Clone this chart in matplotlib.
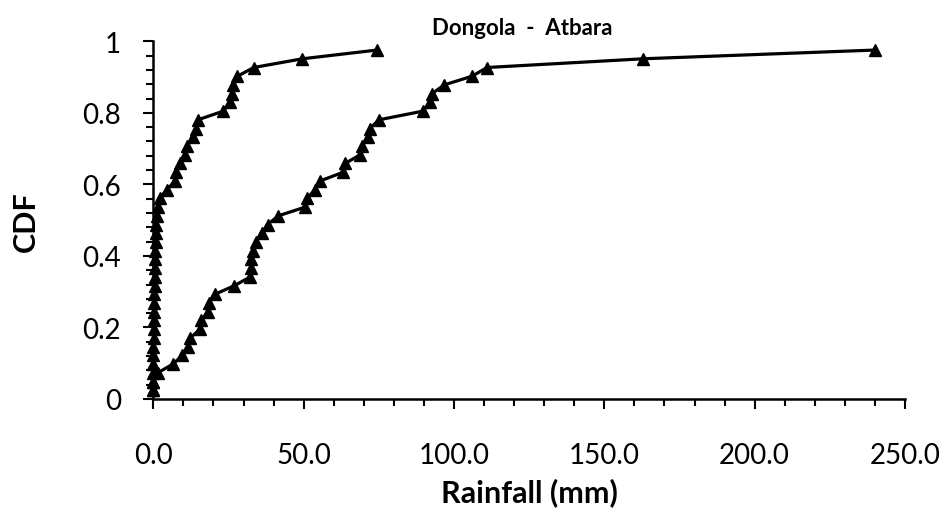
import matplotlib
matplotlib.use("Agg")
import matplotlib.pyplot as plt
import numpy as np
from matplotlib.ticker import MultipleLocator, FormatStrFormatter

plt.rcParams['font.family'] = ['Lato', 'DejaVu Sans']

# sorted rainfall values (mm), 40 values per station
dongola_mm = [0.0, 0.0, 0.0, 0.0, 0.0, 0.0, 0.1, 0.1, 0.2, 0.2,
              0.3, 0.3, 0.4, 0.5, 0.5, 0.6, 0.7, 0.8, 0.9, 1.0,
              1.3, 1.7, 2.1, 4.5, 7.3, 7.6, 9.0, 10.5, 11.2, 13.3,
              14.3, 14.8, 23.3, 25.4, 26.2, 26.6, 28.0, 33.4, 49.6, 74.4]
atbara_mm = [0.0, 0.0, 1.5, 6.5, 9.7, 11.5, 12.3, 15.6, 16.0, 18.3,
             18.5, 20.5, 27.0, 32.3, 32.4, 32.5, 33.0, 34.0, 36.0, 38.0,
             41.6, 50.5, 51.0, 53.9, 55.5, 63.2, 63.8, 68.8, 69.4, 71.5,
             72.0, 75.0, 89.7, 92.0, 92.7, 96.7, 106.0, 111.0, 163.0, 240.0]

y_ticks = [0, 0.2, 0.4, 0.6, 0.8, 1.0]
y_tick_labels = ['0', '0.2', '0.4', '0.6', '0.8', '1']


# Weibull plotting positions i/(n+1)
def plotting_positions(values):
    n = len(values)
    return np.arange(1, n + 1) / (n + 1)


fig = plt.figure(figsize=(9.44, 5.10), dpi=100)
ax = fig.add_axes([0.1624, 0.2157, 0.7963, 0.7013])

for series in (dongola_mm, atbara_mm):
    ax.plot(series, plotting_positions(series), color='black', lw=2.3,
            marker='^', ms=9, clip_on=False)

ax.set_xlim(0, 250)
ax.set_ylim(0, 1)
ax.xaxis.set_major_locator(MultipleLocator(50))
ax.xaxis.set_minor_locator(MultipleLocator(10))
ax.xaxis.set_major_formatter(FormatStrFormatter('%.1f'))
ax.set_yticks(y_ticks)
ax.set_yticklabels(y_tick_labels)
ax.yaxis.set_minor_locator(MultipleLocator(0.04))

for side in ('top', 'right'):
    ax.spines[side].set_visible(False)
for side in ('left', 'bottom'):
    ax.spines[side].set_linewidth(1.8)

ax.tick_params(which='major', length=7.2, width=1.5, labelsize=20)
ax.tick_params(which='minor', length=5, width=1.5)
ax.tick_params(axis='x', which='major', pad=24)
ax.tick_params(axis='y', which='major', pad=16)

# axis titles and chart title
fig.text(529 / 944, 1 - 493 / 510, 'Rainfall (mm)', ha='center',
         va='center', fontsize=22, fontweight='bold')
fig.text(26 / 944, 1 - 222 / 510, 'CDF', ha='center', va='center',
         rotation=90, fontsize=22, fontweight='bold')
fig.text(0.553, 0.945, 'Dongola  -  Atbara', ha='center', va='center',
         fontsize=16, fontweight='bold')

fig.savefig('out.png', dpi=100)
